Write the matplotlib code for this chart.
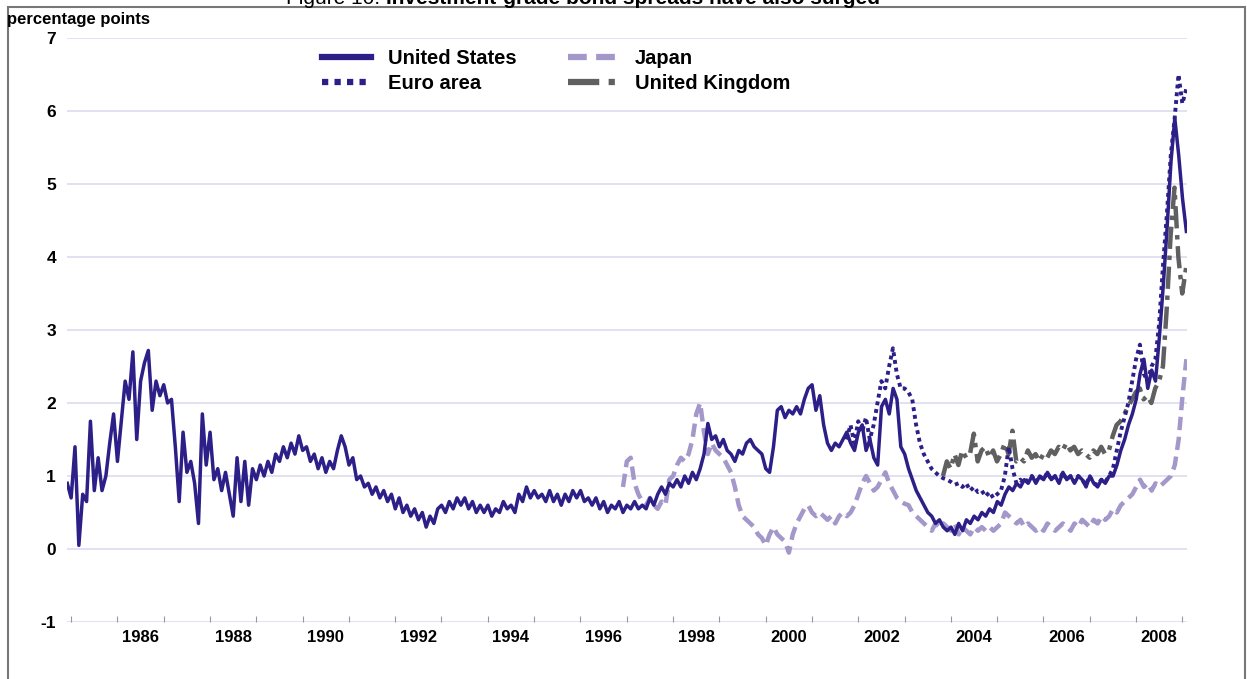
import numpy as np
import matplotlib
matplotlib.use("Agg")
import matplotlib.pyplot as plt
from matplotlib.patches import Rectangle

plt.rcParams['font.family'] = ['Liberation Sans', 'DejaVu Sans']
plt.rcParams['axes.unicode_minus'] = False

# monthly spreads (percentage points)
us_start = 1984.92
us = [0.9,
      0.7, 1.4, 0.05, 0.75, 0.65, 1.75, 0.8, 1.25, 0.8, 1.0, 1.45, 1.85,      # 1985
      1.2, 1.75, 2.3, 2.05, 2.7, 1.5, 2.3, 2.55, 2.72, 1.9, 2.3, 2.1,         # 1986
      2.25, 2.0, 2.05, 1.4, 0.65, 1.6, 1.05, 1.2, 0.9, 0.35, 1.85, 1.15,      # 1987
      1.6, 0.95, 1.1, 0.8, 1.05, 0.75, 0.45, 1.25, 0.65, 1.2, 0.6, 1.1,       # 1988
      0.95, 1.15, 1.0, 1.2, 1.05, 1.3, 1.2, 1.4, 1.25, 1.45, 1.3, 1.55,       # 1989
      1.35, 1.4, 1.2, 1.3, 1.1, 1.25, 1.05, 1.2, 1.1, 1.35, 1.55, 1.4,        # 1990
      1.15, 1.25, 0.95, 1.0, 0.85, 0.9, 0.75, 0.85, 0.7, 0.8, 0.65, 0.75,     # 1991
      0.55, 0.7, 0.5, 0.6, 0.45, 0.55, 0.4, 0.5, 0.3, 0.45, 0.35, 0.55,       # 1992
      0.6, 0.5, 0.65, 0.55, 0.7, 0.6, 0.7, 0.55, 0.65, 0.5, 0.6, 0.5,         # 1993
      0.6, 0.45, 0.55, 0.5, 0.65, 0.55, 0.6, 0.5, 0.75, 0.65, 0.85, 0.7,      # 1994
      0.8, 0.7, 0.75, 0.65, 0.8, 0.65, 0.75, 0.6, 0.75, 0.65, 0.8, 0.7,       # 1995
      0.8, 0.65, 0.7, 0.6, 0.7, 0.55, 0.65, 0.5, 0.6, 0.55, 0.65, 0.5,        # 1996
      0.6, 0.55, 0.65, 0.55, 0.6, 0.55, 0.7, 0.6, 0.75, 0.85, 0.75, 0.9,      # 1997
      0.85, 0.95, 0.85, 1.0, 0.9, 1.05, 0.95, 1.1, 1.3, 1.72, 1.5, 1.55,      # 1998
      1.4, 1.5, 1.35, 1.3, 1.2, 1.35, 1.3, 1.45, 1.5, 1.4, 1.35, 1.3,         # 1999
      1.1, 1.05, 1.4, 1.9, 1.95, 1.8, 1.9, 1.85, 1.95, 1.85, 2.05, 2.2,       # 2000
      2.25, 1.9, 2.1, 1.7, 1.45, 1.35, 1.45, 1.4, 1.5, 1.6, 1.45, 1.35,       # 2001
      1.6, 1.7, 1.35, 1.5, 1.25, 1.15, 1.95, 2.05, 1.85, 2.2, 2.05, 1.4,      # 2002
      1.3, 1.1, 0.95, 0.8, 0.7, 0.6, 0.5, 0.45, 0.35, 0.4, 0.3, 0.25,         # 2003
      0.3, 0.2, 0.35, 0.25, 0.4, 0.35, 0.45, 0.4, 0.5, 0.45, 0.55, 0.5,       # 2004
      0.65, 0.6, 0.75, 0.85, 0.8, 0.9, 0.85, 0.95, 0.9, 1.0, 0.9, 1.0,        # 2005
      0.95, 1.05, 0.95, 1.0, 0.9, 1.05, 0.95, 1.0, 0.9, 1.0, 0.95, 0.85,      # 2006
      1.0, 0.9, 0.85, 0.95, 0.9, 1.0, 1.0, 1.15, 1.35, 1.5, 1.7, 1.85,        # 2007
      2.05, 2.4, 2.6, 2.2, 2.45, 2.3, 2.9, 3.6, 4.4, 5.3, 5.9, 5.4,           # 2008
      4.8, 4.35]

euro_start = 2001.75
euro = [1.5, 1.7, 1.45,
        1.75, 1.6, 1.8, 1.5, 1.7, 2.0, 2.3, 2.2, 2.5, 2.75, 2.4, 2.2,        # 2002
        2.2, 2.15, 2.05, 1.7, 1.45, 1.3, 1.2, 1.1, 1.05, 1.0, 0.97, 0.95,    # 2003
        0.92, 0.88, 0.9, 0.85, 0.9, 0.8, 0.85, 0.78, 0.8, 0.72, 0.78, 0.7,   # 2004
        0.75, 0.8, 1.0, 1.4, 1.1, 0.9, 0.95, 0.9, 0.95, 1.0, 0.92, 1.0,      # 2005
        0.95, 1.05, 0.95, 1.0, 0.92, 1.05, 0.95, 1.0, 0.92, 1.0, 0.95, 0.88, # 2006
        1.0, 0.9, 0.88, 0.95, 0.92, 1.0, 1.1, 1.35, 1.6, 1.8, 2.0, 2.3,      # 2007
        2.6, 2.8, 2.4, 2.3, 2.5, 2.6, 3.1, 3.9, 4.6, 5.4, 5.9, 6.5,          # 2008
        6.1, 6.3]

japan_start = 1996.92
japan = [0.85,
         1.2, 1.25, 0.9, 0.75, 0.65, 0.6, 0.7, 0.6, 0.55, 0.65, 0.6, 0.95,   # 1997
         1.0, 1.15, 1.25, 1.2, 1.3, 1.5, 1.85, 2.0, 1.6, 1.3, 1.45, 1.35,    # 1998
         1.3, 1.25, 1.15, 1.05, 0.85, 0.6, 0.45, 0.4, 0.35, 0.3, 0.2, 0.15,  # 1999
         0.05, 0.2, 0.3, 0.2, 0.15, 0.1, -0.05, 0.2, 0.35, 0.45, 0.55, 0.6,  # 2000
         0.5, 0.45, 0.5, 0.45, 0.4, 0.45, 0.35, 0.45, 0.5, 0.45, 0.5, 0.6,   # 2001
         0.75, 0.9, 1.0, 0.9, 0.8, 0.85, 0.95, 1.05, 0.9, 0.8, 0.7, 0.65,    # 2002
         0.62, 0.6, 0.5, 0.45, 0.4, 0.35, 0.3, 0.25, 0.35, 0.3, 0.35, 0.3,   # 2003
         0.25, 0.35, 0.2, 0.3, 0.25, 0.2, 0.3, 0.25, 0.3, 0.25, 0.3, 0.25,   # 2004
         0.3, 0.35, 0.5, 0.45, 0.4, 0.35, 0.4, 0.3, 0.35, 0.3, 0.25, 0.3,    # 2005
         0.25, 0.35, 0.3, 0.25, 0.3, 0.35, 0.3, 0.25, 0.35, 0.3, 0.4, 0.35,  # 2006
         0.3, 0.4, 0.35, 0.45, 0.4, 0.45, 0.55, 0.5, 0.6, 0.65, 0.7, 0.75,   # 2007
         0.85, 0.95, 0.85, 0.9, 0.8, 0.9, 0.85, 0.9, 0.95, 1.0, 1.15, 1.5,   # 2008
         2.1, 2.6]

uk_start = 2003.83
uk = [1.0, 1.2,
      1.1, 1.3, 1.15, 1.35, 1.25, 1.3, 1.58, 1.2, 1.35, 1.4, 1.25, 1.35,     # 2004
      1.2, 1.3, 1.45, 1.3, 1.62, 1.2, 1.25, 1.2, 1.35, 1.25, 1.3, 1.2,       # 2005
      1.3, 1.25, 1.35, 1.3, 1.4, 1.35, 1.45, 1.35, 1.4, 1.3, 1.35, 1.3,      # 2006
      1.25, 1.35, 1.3, 1.4, 1.3, 1.35, 1.55, 1.7, 1.75, 1.85, 1.95, 2.05,    # 2007
      2.15, 2.2, 2.05, 2.1, 2.0, 2.2, 2.3, 2.5, 3.3, 4.3, 4.95, 4.0,         # 2008
      3.5, 3.85]

label_years = list(range(1986, 2009, 2))

US_COL = '#2c1f88'
JP_COL = '#a497c9'
UK_COL = '#606060'
GRID_COL = '#dddbef'


def monthly(start, vals):
    return start + np.arange(len(vals)) / 12.0


fig = plt.figure(figsize=(12.47, 6.79), dpi=100)
ax = fig.add_axes([67 / 1247, 57 / 679, 1120 / 1247, 584 / 679])

ax.plot(monthly(japan_start, japan), japan, color=JP_COL, lw=3.2,
        linestyle=(0, (3, 1.5)), label='Japan', zorder=2)
ax.plot(monthly(uk_start, uk), uk, color=UK_COL, lw=3.2,
        linestyle=(0, (5, 1.5, 1, 1.5)), label='United Kingdom', zorder=3)
ax.plot(monthly(us_start, us), us, color=US_COL, lw=2.5,
        label='United States', zorder=4)
ax.plot(monthly(euro_start, euro), euro, color=US_COL, lw=2.8,
        linestyle=(0, (1, 1)), label='Euro area', zorder=5)

ax.set_xlim(1984.914, 2009.10)
ax.set_ylim(-1, 7)
ax.set_yticks(range(-1, 8))
for y in range(-1, 8):
    ax.axhline(y, color=GRID_COL, lw=1.2, zorder=0)
for s in ax.spines.values():
    s.set_visible(False)

ax.set_xticks(range(1985, 2010))
ax.set_xticklabels([])
ax.set_xticks([y + 0.5 for y in label_years], minor=True)
ax.set_xticklabels([str(y) for y in label_years], minor=True,
                   fontsize=12, fontweight='bold')
ax.tick_params(axis='x', which='major', direction='in', length=4,
               color='#999999', width=0.8)
ax.tick_params(axis='x', which='minor', length=0, pad=6)
ax.tick_params(axis='y', length=0, pad=8, labelsize=12.5)
for t in ax.get_yticklabels():
    t.set_fontweight('bold')

h, l = ax.get_legend_handles_labels()
order = [2, 3, 0, 1]
leg = fig.legend([h[i] for i in order], [l[i] for i in order], ncol=2,
                 loc='upper left', bbox_to_anchor=(322 / 1247, 1 - 49 / 679),
                 frameon=False, prop={'size': 14.5, 'weight': 'bold'},
                 handlelength=2.45, handletextpad=0.85, columnspacing=2.55,
                 labelspacing=0.3, borderpad=0, borderaxespad=0)
for ln in leg.get_lines():
    ln.set_linewidth(4.5)

fig.text(7 / 1247, 1 - 24 / 679, 'percentage points', fontsize=12,
         fontweight='bold', va='baseline')

# title, mostly cut off by the top edge as in the source
fig.text(386 / 1247, 1 - 4 / 679, 'Figure 10: ', fontsize=15,
         ha='right', va='baseline')
fig.text(386 / 1247, 1 - 4 / 679, 'Investment-grade bond spreads have also surged',
         fontsize=15, fontweight='bold', ha='left', va='baseline')

fig.patches.append(Rectangle((8 / 1247, -0.1), 1237 / 1247, 1.1 - 7 / 679,
                             transform=fig.transFigure, fill=False,
                             edgecolor='#777777', lw=1.5))

fig.savefig('out.png', dpi=100)
